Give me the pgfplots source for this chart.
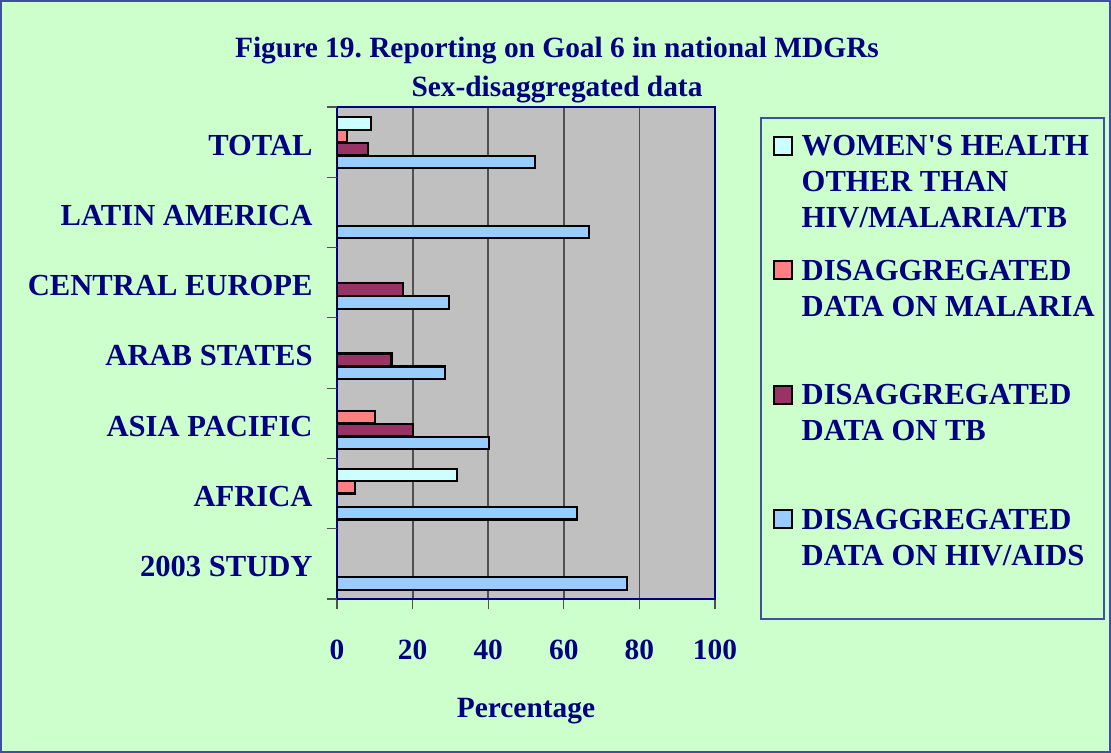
\documentclass[border=0pt]{standalone}
\usepackage{fontspec}
\setmainfont{Liberation Serif}
\usepackage{pgfplots}
\pgfplotsset{compat=1.18}
\definecolor{navy}{RGB}{0,0,128}
\definecolor{frameblue}{RGB}{64,80,160}
\definecolor{bgg}{RGB}{204,255,204}
\definecolor{plotgray}{RGB}{192,192,192}
\definecolor{gridgray}{RGB}{80,80,80}
\definecolor{cWomen}{RGB}{204,255,255}
\definecolor{cMal}{RGB}{255,128,128}
\definecolor{cTB}{RGB}{153,51,102}
\definecolor{cHIV}{RGB}{153,204,255}
\newcommand{\tf}{\fontsize{14.7}{18}\selectfont\bfseries\color{navy}}
\newcommand{\lf}{\fontsize{15.3}{18}\selectfont\bfseries\color{navy}}
\newcommand{\lent}[1]{\parbox[t]{145pt}{\raggedright\baselineskip=18pt #1}}
\frenchspacing
\begin{document}
\begin{tikzpicture}
\fill[bgg] (0,0) rectangle (555.5pt,-376.5pt);
\draw[frameblue, line width=1pt] (0.5pt,-0.5pt) rectangle (555pt,-376pt);
\node[anchor=base, font=\tf] at (278.5pt,-29pt) {Figure 19. Reporting on Goal 6 in national MDGRs};
\node[anchor=base, font=\tf] at (278.5pt,-48.5pt) {Sex-disaggregated data};
\begin{axis}[
  at={(168.5pt,-299.5pt)}, anchor=south west,
  scale only axis, width=189pt, height=246pt,
  xbar, bar width=6.2pt,
  xmin=0, xmax=100, ymin=-0.5, ymax=6.5, y dir=reverse,
  axis background/.style={fill=plotgray},
  axis line style={navy, line width=1pt},
  xmajorgrids, major grid style={gridgray, line width=0.9pt},
  xtick={0,20,...,100},
  tick align=outside, tick pos=left,
  major tick length=5pt,
  x tick style={gridgray, line width=0.6pt},
  /pgf/number format/assume math mode=true,
  xticklabel style={font=\tf, anchor=north, inner sep=0pt, yshift=-15.5pt},
  ytick={0,...,6},
  yticklabels={TOTAL, LATIN AMERICA, CENTRAL EUROPE, ARAB STATES, ASIA PACIFIC, AFRICA, 2003 STUDY},
  y tick style={draw=none},
  yticklabel style={font=\lf, anchor=east, inner sep=0pt, xshift=-7pt, yshift=-1.5pt},
  extra y ticks={-0.5,0.5,...,6.5},
  extra y tick labels={},
  extra y tick style={y tick style={draw=gridgray, line width=0.6pt}, major tick length=5pt, tick align=outside},
  xlabel={Percentage},
  xlabel style={font=\tf, at={(axis description cs:0.5,0)}, anchor=base, yshift=-59pt},
  legend cell align=left,
  legend style={at={(axis description cs:1.1188,0.9797)}, anchor=north west,
    draw=frameblue, line width=0.8pt, fill=none, font=\lf,
    inner xsep=6pt, inner ysep=9pt, row sep=0pt,
    nodes={inner sep=0pt, anchor=base west}},
  legend image code/.code={
    \draw[#1, draw=black, line width=1pt] (0pt,0.5pt) rectangle (9pt,9.5pt);
    \path[draw=none, fill=none] (0pt,1pt) -- (14pt,1pt);
  },
]
\addplot[fill=cWomen, draw=black, line width=1.1pt, bar shift=9.35pt] coordinates {(9,0) (31.7,5)};
\addlegendentry[text height=10pt, text depth=52.2pt]{\lent{\mbox{WOMEN\textquotesingle S HEALTH}\\\mbox{OTHER THAN}\\\mbox{HIV/MALARIA/TB}}}
\addplot[fill=cMal, draw=black, line width=1.1pt, bar shift=3.1pt] coordinates {(2.6,0) (10.1,4) (4.8,5)};
\addlegendentry[text height=10pt, text depth=52.2pt]{\lent{\mbox{DISAGGREGATED}\\\mbox{DATA ON MALARIA}}}
\addplot[fill=cTB, draw=black, line width=1.1pt, bar shift=-3.35pt] coordinates {(8.1,0) (17.5,2) (14.4,3) (20.1,4)};
\addlegendentry[text height=10pt, text depth=52.2pt]{\lent{\mbox{DISAGGREGATED}\\\mbox{DATA ON TB}}}
\addplot[fill=cHIV, draw=black, line width=1.1pt, bar shift=-9.85pt] coordinates {(52.4,0) (66.7,1) (29.7,2) (28.5,3) (40.3,4) (63.4,5) (76.7,6)};
\addlegendentry[text height=10pt, text depth=36pt]{\lent{\mbox{DISAGGREGATED}\\\mbox{DATA ON HIV/AIDS}}}
\end{axis}
\end{tikzpicture}
\end{document}
